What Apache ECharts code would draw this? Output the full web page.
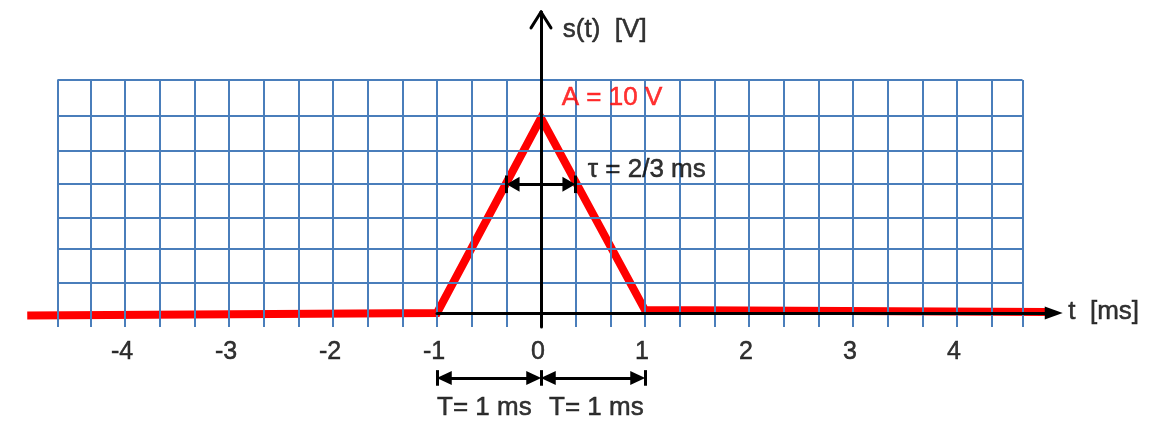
<!DOCTYPE html>
<html><head><meta charset="utf-8">
<script src="https://cdn.jsdelivr.net/npm/echarts@6/dist/echarts.min.js"></script>
<style>html,body{margin:0;padding:0;background:#fff}#c{width:1152px;height:435px}</style>
</head><body><div id="c"></div>
<script>
// ---- data ----
const tickLabels = [-4, -3, -2, -1, 0, 1, 2, 3, 4];            // t [ms]
const signalT = [-4.94, -1, 0, 1, 4.85];                        // ms
const signalV = [-0.13, 0, 10, 0.15, 0.05];                     // V
const gridCols = [-4.65, -4.33, -4, -3.67, -3.33, -3, -2.67, -2.33, -2, -1.67, -1.33, -1, -0.67, -0.33, 0,
                  0.33, 0.67, 1, 1.33, 1.67, 2, 2.33, 2.67, 3, 3.33, 3.67, 4, 4.33, 4.63];
const gridRows = [1.55, 3.27, 4.91, 6.62, 8.31, 10.12, 11.95];
const gridSpanT = [-4.65, 4.63];
const gridSpanV = [-0.72, 11.95];
const axisSpanT = [-1, 4.93];
const axisSpanV = [-0.72, 15.44];
const arrowArm = [0.096, 0.82];       // half width (ms), depth (V) of the s(t) arrow head
const tauSpan = [-1/3, 1/3];
const tauLevel = 6.6;
const periodMarks = [-1, 0, 1];
const periodLevel = -3.33;
const tickLabelLevel = -2.03;
const annText  = ['s(t)  [V]', 'A = 10 V', '\u03c4 = 2/3 ms', 't  [ms]', 'T= 1 ms', 'T= 1 ms'];
const annT     = [0.21, 0.2, 0.45, 5.07, -1.0, 0.077];
const annV     = [14.51, 11.03, 7.33, 0.05, -4.87, -4.87];
const annColor = ['#000', '#ff0000', '#000', '#000', '#000', '#000'];

// ---- build options ----
const FONT = '"Liberation Sans", Arial, Helvetica, sans-serif';
const BLUE = '#4a7ebb';
function seg(a, b, extra) { return [Object.assign({coord: a}, extra && extra[0]), Object.assign({coord: b}, extra && extra[1])]; }

const gridLines = [];
gridCols.forEach(t => gridLines.push(seg([t, gridSpanV[0]], [t, gridSpanV[1]])));
gridRows.forEach(v => gridLines.push(seg([gridSpanT[0], v], [gridSpanT[1], v])));

const none = {symbol: 'none'};
const axisLines = [
  seg([0, axisSpanV[0]], [0, axisSpanV[1]]),
  seg([0, axisSpanV[1]], [-arrowArm[0], axisSpanV[1] - arrowArm[1]]),
  seg([0, axisSpanV[1]], [arrowArm[0], axisSpanV[1] - arrowArm[1]]),
  seg([axisSpanT[0], 0], [axisSpanT[1], 0], [none, {symbol: 'triangle', symbolSize: [13, 18]}])
];

const headT = 0.07, headTau = 0.065;
const annLines = [];
annLines.push(seg([tauSpan[0] + headTau, tauLevel], [tauSpan[1] - headTau, tauLevel],
  [{symbol: 'triangle', symbolSize: [15, 13]}, {symbol: 'triangle', symbolSize: [15, 13]}]));
tauSpan.forEach(t => annLines.push(seg([t, tauLevel - 0.45], [t, tauLevel + 0.45])));
for (let i = 0; i < periodMarks.length - 1; i++) {
  annLines.push(seg([periodMarks[i] + headT, periodLevel], [periodMarks[i + 1] - headT, periodLevel],
    [{symbol: 'triangle', symbolSize: [14, 15]}, {symbol: 'triangle', symbolSize: [14, 15]}]));
}
periodMarks.forEach(t => annLines.push(seg([t, periodLevel - 0.4], [t, periodLevel + 0.4])));

const annData = annText.map((s, i) => ({value: [annT[i], annV[i]], name: s,
  label: {color: annColor[i], textBorderColor: annColor[i]}}));
const tickData = tickLabels.map(t => ({value: [t, tickLabelLevel], name: String(t)}));

const mlBase = {silent: true, symbol: 'none', label: {show: false}, emphasis: {disabled: true}, animation: false};
const textStyle = {fontSize: 26, fontFamily: FONT, color: '#000', textBorderColor: '#000', textBorderWidth: 0.5};

const option = {
  animation: false,
  grid: {left: 0, right: 0, top: 0, bottom: 0},
  xAxis: {
    type: 'value', min: -541 / 104, max: 611 / 104,
    axisLine: {show: false}, axisTick: {show: false}, splitLine: {show: false}, axisLabel: {show: false}
  },
  yAxis: {
    type: 'value', min: -122 / 19.5, max: 313 / 19.5,
    axisLine: {show: false}, axisTick: {show: false}, splitLine: {show: false}, axisLabel: {show: false}
  },
  series: [
    {type: 'line', data: [], z: 1,
     markLine: Object.assign({}, mlBase, {lineStyle: {color: BLUE, width: 2, type: 'solid'}, data: gridLines})},
    {type: 'line', data: [], z: 2,
     markLine: Object.assign({}, mlBase, {lineStyle: {color: '#000', width: 3, type: 'solid', cap: 'round'}, data: axisLines})},
    {type: 'line', z: 3, showSymbol: false, symbol: 'none', silent: true,
     data: signalT.map((t, i) => [t, signalV[i]]),
     lineStyle: {color: '#ff0000', width: 8, join: 'miter'}},
    {type: 'line', data: [], z: 4,
     markLine: Object.assign({}, mlBase, {lineStyle: {color: '#000', width: 3, type: 'solid'}, data: annLines})},
    {type: 'scatter', z: 5, symbolSize: 0, silent: true, data: annData,
     label: Object.assign({show: true, position: 'right', distance: 0, formatter: p => p.name}, textStyle)},
    {type: 'scatter', z: 5, symbolSize: 0, silent: true, data: tickData,
     label: Object.assign({show: true, position: 'inside', offset: [-3, 0], align: 'center', formatter: p => p.name}, textStyle, {fontSize: 25})}
  ]
};
const chart = echarts.init(document.getElementById('c'));
chart.setOption(option);
</script></body></html>
